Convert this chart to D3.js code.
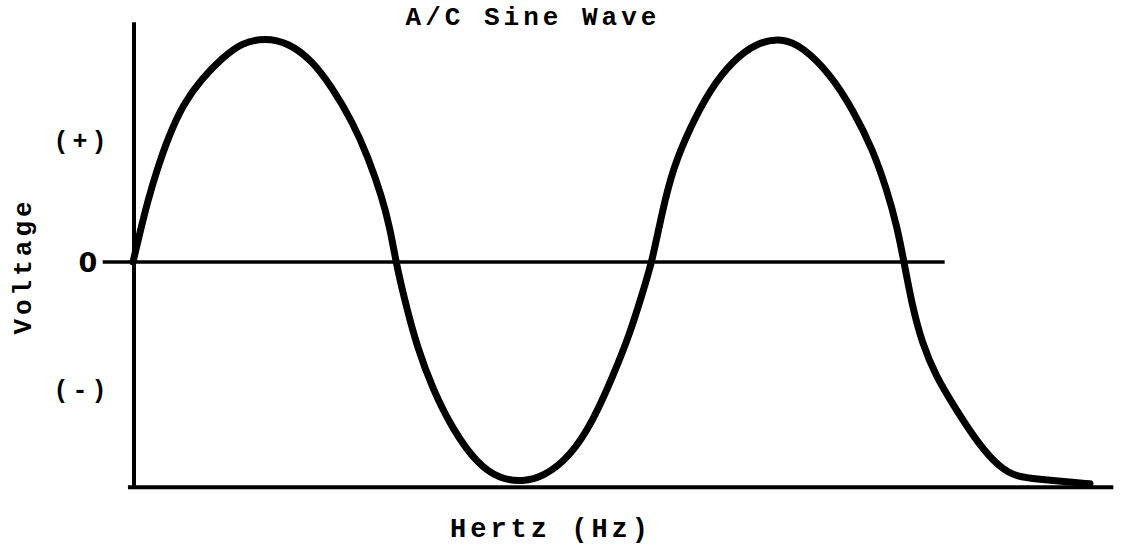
<!DOCTYPE html>
<html>
<head>
<meta charset="utf-8">
<script src="https://cdn.jsdelivr.net/npm/d3@7"></script>
<style>
    body { margin: 0; background: #fff; overflow: hidden; }
    text { font-family: "Liberation Mono", "DejaVu Sans Mono", monospace; font-weight: bold; fill: #000; }
</style>
</head>
<body>
<div id="vis"></div>
<script>
// Points: phase (degrees) and relative voltage
const phase = [0, 4.9, 10.4, 16.6, 24.3, 34.7, 47.9, 61.7, 75.6, 91.6, 107.5, 124.2, 138, 151.9, 163, 172.7, 178.3, 182.4,
    187.9, 197, 208.1, 222, 238.6, 254.6, 270.5, 284.4, 303.1, 319.1, 332.9, 344.7, 353.8, 360,
    366.9, 374.6, 386.4, 400.2, 416.2, 432.8, 450.2, 464.7, 483.5, 499.4, 513.3, 523, 529.9, 534.8,
    540.3, 547.2, 556.9, 570.1, 586.1, 601.4, 613.2, 629.1, 645.1, 663.8]
const voltage = [0, 0.134, 0.277, 0.41, 0.554, 0.705, 0.82, 0.91, 0.98, 1.0, 0.98, 0.9, 0.78, 0.63, 0.47, 0.29, 0.15, 0,
    -0.156, -0.38, -0.57, -0.75, -0.9, -0.97, -0.98, -0.96, -0.87, -0.71, -0.51, -0.32, -0.13, 0,
    0.22, 0.42, 0.6, 0.77, 0.9, 0.98, 1.0, 0.96, 0.84, 0.68, 0.5, 0.32, 0.16, 0,
    -0.19, -0.36, -0.51, -0.65, -0.81, -0.92, -0.96, -0.97, -0.98, -0.99]

const yTickLabels = ["(+)", "0", "(-)"]
const yTickValues = [0.54, 0, -0.57]

const title = "A/C Sine Wave"
const xTitle = "Hertz (Hz)"
const yTitle = "Voltage"

const width = 1136
const height = 548

let dataset = phase.map((p, i) => ({ Phase: p, Volt: voltage[i] }))

let xScale = d3.scaleLinear()
    .domain([0, 360])
    .range([133, 652])
let yScale = d3.scaleLinear()
    .domain([-1, 1])
    .range([486, 38])

let svg = d3.select("#vis")
    .append("svg")
    .attr("width", width)
    .attr("height", height)

svg.append("rect")
    .attr("width", width)
    .attr("height", height)
    .attr("fill", "#fff")

// y axis line
svg.append("line")
    .attr("x1", xScale(0) + 1)
    .attr("x2", xScale(0) + 1)
    .attr("y1", yScale(1.07))
    .attr("y2", yScale(-1.012))
    .attr("stroke", "#000")
    .attr("stroke-width", 4)

// x axis line (bottom)
svg.append("line")
    .attr("x1", xScale(-3.5))
    .attr("x2", xScale(680))
    .attr("y1", yScale(-1.006))
    .attr("y2", yScale(-1.006))
    .attr("stroke", "#000")
    .attr("stroke-width", 4)

// zero line
svg.append("line")
    .attr("x1", xScale(-21))
    .attr("x2", xScale(563))
    .attr("y1", yScale(0))
    .attr("y2", yScale(0))
    .attr("stroke", "#000")
    .attr("stroke-width", 3.5)

// the wave
svg.append("path")
    .datum(dataset)
    .attr("fill", "none")
    .attr("stroke", "#000")
    .attr("stroke-width", 7)
    .attr("stroke-linecap", "round")
    .attr("stroke-linejoin", "round")
    .attr("d", d3.line()
        .x(d => xScale(d.Phase))
        .y(d => yScale(d.Volt))
        .curve(d3.curveBasis)
    )

// y tick labels
svg.selectAll(".ylab")
    .data(yTickValues)
    .enter()
    .append("text")
    .attr("class", "ylab")
    .attr("x", (d, i) => i === 1 ? 88 : 80 + 2)
    .attr("y", d => yScale(d))
    .attr("dy", (d, i) => i === 1 ? "0.36em" : "0.33em")
    .attr("text-anchor", "middle")
    .style("font-family", (d, i) => i === 1 ? "'DejaVu Sans', sans-serif" : null)
    .style("font-size", (d, i) => i === 1 ? "27px" : "25px")
    .style("letter-spacing", (d, i) => i === 1 ? "0px" : "4px")
    .text((d, i) => yTickLabels[i])

// title
svg.append("text")
    .attr("x", 531 + 2)
    .attr("y", 25)
    .attr("text-anchor", "middle")
    .style("font-size", "26px")
    .style("letter-spacing", "4px")
    .text(title)

// x axis title
svg.append("text")
    .attr("x", 549 + 2)
    .attr("y", 537)
    .attr("text-anchor", "middle")
    .style("font-size", "27px")
    .style("letter-spacing", "4px")
    .text(xTitle)

// y axis title
svg.append("text")
    .attr("transform", "translate(31," + (264 + 2) + ") rotate(-90)")
    .attr("text-anchor", "middle")
    .style("font-size", "26px")
    .style("letter-spacing", "4px")
    .text(yTitle)
</script>
</body>
</html>
